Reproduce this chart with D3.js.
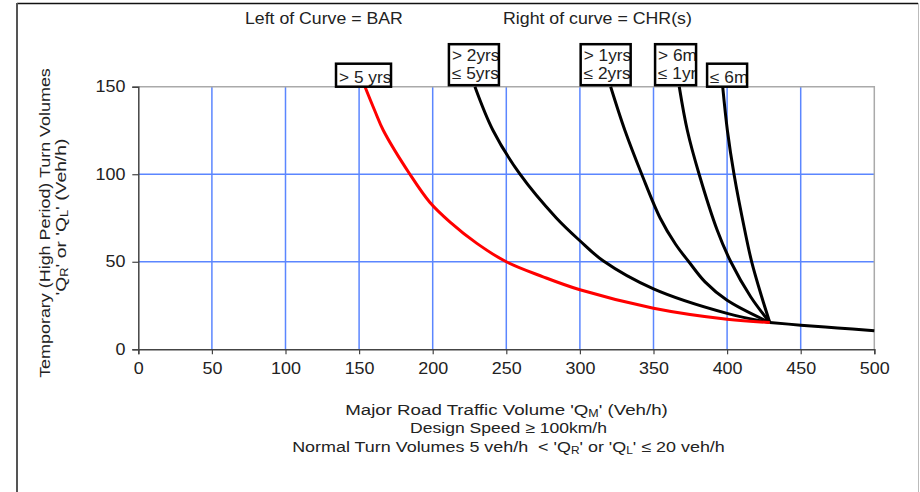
<!DOCTYPE html>
<html>
<head>
<meta charset="utf-8">
<script src="https://cdn.jsdelivr.net/npm/d3@7"></script>
<style>
  body { margin: 0; background: #fff; }
  svg text { font-family: "Liberation Sans", Arial, sans-serif; fill: #222; }
</style>
</head>
<body>
<div id="chart"></div>
<script>
// curve values (x = major road volume, y = turn volume)
let barX   = [154, 160.8, 166.5, 184.5, 198, 212, 230, 250, 275, 300, 350, 400, 429];
let barY   = [150, 136, 125, 100, 84, 72.5, 60.5, 50, 41.4, 34, 23.5, 17.2, 15.3];
let chr5X  = [228.7, 241, 259.3, 284, 300, 316, 350, 400, 429];
let chr5Y  = [150, 125, 100, 75, 62, 50.4, 34.5, 20.5, 15.3];
let chr2X  = [320.9, 330.6, 342, 354.5, 365, 374, 385, 400, 429];
let chr2Y  = [150, 125, 100, 75, 60, 50, 38.5, 28, 15.3];
let chr1X  = [367.5, 373, 381, 393.3, 402.5, 416, 429];
let chr1Y  = [150, 125, 100, 68, 50, 30, 15.3];
let chr6X  = [397, 400.2, 404.7, 412, 416.7, 423.5, 429];
let chr6Y  = [150, 125, 100, 68, 50, 30, 15.3];
let tailX  = [429, 450, 475, 500];
let tailY  = [15.3, 13.8, 12.2, 10.6];

let xTicks = [0, 50, 100, 150, 200, 250, 300, 350, 400, 450, 500];
let yTicks = [0, 50, 100, 150];

// curve labels, anchored on the x value of the curve top
let labelX    = [153, 228, 317.5, 365, 400];
let labelText = [["> 5 yrs"], ["> 2yrs", "\u2264 5yrs"], ["> 1yrs", "\u2264 2yrs"], ["> 6m", "\u2264 1yr"], ["\u2264 6m"]];

let config = { svg: {}, plot: {} };
config.svg.width = 920;
config.svg.height = 492;
config.plot.left = 138.3;
config.plot.right = 874.3;
config.plot.top = 86.7;
config.plot.bottom = 349.3;

let svg = d3.select("#chart").append("svg")
  .attr("width", config.svg.width)
  .attr("height", config.svg.height);

// stretch a text along its length so it is w pixels long
function fitTo(sel, x0, w) {
  let k = w / sel.node().getBBox().width;
  sel.attr("transform", "translate(" + x0 + ",0) scale(" + k + ",1) translate(" + (-x0) + ",0)");
}
function fitRotated(sel, cx, cy, w) {
  let k = w / sel.node().getBBox().width;
  sel.attr("transform", "translate(" + cx + "," + cy + ") rotate(-90) scale(" + k + ",1)");
}

// outer frame
svg.append("line").attr("x1", 17).attr("x2", 918).attr("y1", 3.5).attr("y2", 3.5)
  .attr("stroke", "#111").attr("stroke-width", 1.5);
svg.append("line").attr("x1", 17).attr("x2", 17).attr("y1", 3).attr("y2", 492)
  .attr("stroke", "#555").attr("stroke-width", 2);
svg.append("line").attr("x1", 918.5).attr("x2", 918.5).attr("y1", 3).attr("y2", 492)
  .attr("stroke", "#bbb").attr("stroke-width", 1);

let x = d3.scaleLinear().domain([0, 500]).range([config.plot.left, config.plot.right]);
let y = d3.scaleLinear().domain([0, 150]).range([config.plot.bottom, config.plot.top]);

// grid
svg.append("g").selectAll("line")
  .data(xTicks.filter(d => d > 0 && d < 500)).enter().append("line")
  .attr("x1", d => x(d)).attr("x2", d => x(d))
  .attr("y1", y(0)).attr("y2", y(150))
  .attr("stroke", "#5b86ff").attr("stroke-width", 1.5);
svg.append("g").selectAll("line")
  .data(yTicks.filter(d => d > 0 && d < 150)).enter().append("line")
  .attr("x1", x(0)).attr("x2", x(500))
  .attr("y1", d => y(d)).attr("y2", d => y(d))
  .attr("stroke", "#5b86ff").attr("stroke-width", 1.5);

// plot border top/right
svg.append("path")
  .attr("d", "M" + x(0) + "," + y(150) + "H" + x(500) + "V" + y(0))
  .attr("fill", "none").attr("stroke", "#aaa").attr("stroke-width", 1.5);

// axes
let xAxis = svg.append("g")
  .attr("transform", "translate(0," + y(0) + ")")
  .call(d3.axisBottom(x).tickValues(xTicks).tickSize(5).tickPadding(6));
let yAxis = svg.append("g")
  .attr("transform", "translate(" + x(0) + ",0)")
  .call(d3.axisLeft(y).tickValues(yTicks).tickSize(6).tickPadding(6));
[xAxis, yAxis].forEach(function(a) {
  a.select(".domain").attr("stroke", "#444").attr("stroke-width", 1.5);
  a.selectAll(".tick line").attr("stroke", "#444").attr("stroke-width", 1.2);
  a.selectAll(".tick text").style("font-size", "16px").attr("fill", "#222");
});
xAxis.selectAll(".tick text").attr("dy", "0.85em").attr("transform", "scale(1.12,1)");
yAxis.selectAll(".tick text").attr("x", -11.5).attr("transform", "scale(1.12,1)");

// curves
let line = d3.line()
  .x(d => x(d[0]))
  .y(d => y(d[1]))
  .curve(d3.curveCatmullRom.alpha(0.5));

function pairs(xs, ys) { return xs.map((v, i) => [v, ys[i]]); }

let blackSeries = [pairs(chr5X, chr5Y), pairs(chr2X, chr2Y), pairs(chr1X, chr1Y), pairs(chr6X, chr6Y), pairs(tailX, tailY)];
svg.append("g").selectAll("path")
  .data(blackSeries).enter().append("path")
  .attr("d", line)
  .attr("fill", "none")
  .attr("stroke", "#000")
  .attr("stroke-width", 3)
  .attr("stroke-linejoin", "round");

svg.append("path")
  .datum(pairs(barX, barY))
  .attr("d", line)
  .attr("fill", "none")
  .attr("stroke", "#ff0000")
  .attr("stroke-width", 3);

// labels on top of curves
let boxW = [55, 50, 50, 41, 40];
let defs = svg.append("defs");
labelText.forEach(function(lines, i) {
  let h = lines.length > 1 ? 41 : 23;
  let bx = x(labelX[i]) - boxW[i] / 2;
  let by = y(150) - h - (lines.length > 1 ? 1.5 : 0);
  defs.append("clipPath").attr("id", "clip" + i)
    .append("rect").attr("x", bx).attr("y", by).attr("width", boxW[i]).attr("height", h);
  let g = svg.append("g");
  g.append("rect")
    .attr("x", bx).attr("y", by).attr("width", boxW[i]).attr("height", h)
    .attr("fill", "#fff");
  let t = g.append("g").attr("clip-path", "url(#clip" + i + ")")
    .append("text")
    .attr("transform", "translate(" + (bx + 3) + ",0) scale(1.08,1) translate(" + (-bx - 3) + ",0)")
    .style("font-size", "16px");
  lines.forEach(function(s, j) {
    t.append("tspan").attr("x", bx + 3).attr("y", by + (lines.length > 1 ? 17 : 19) + j * 18).text(s);
  });
  g.append("rect")
    .attr("x", bx).attr("y", by).attr("width", boxW[i]).attr("height", h)
    .attr("fill", "none").attr("stroke", "#000").attr("stroke-width", 2.5);
});

// header texts
let h1 = svg.append("text").attr("x", 245).attr("y", 24).style("font-size", "16px").text("Left of Curve = BAR");
fitTo(h1, 245, 158);
let h2 = svg.append("text").attr("x", 503).attr("y", 24).style("font-size", "16px").text("Right of curve = CHR(s)");
fitTo(h2, 503, 189);

function sub(t, main, s) {
  t.append("tspan").text(main);
  t.append("tspan").attr("dy", 2).style("font-size", "10px").text(s);
  t.append("tspan").attr("dy", -2).text("'");
}

// y axis title (rotated)
let yt = svg.append("text")
  .attr("text-anchor", "middle")
  .style("font-size", "15px")
  .text("Temporary (High Period) Turn Volumes");
fitRotated(yt, 50, 223, 310);
let yt2 = svg.append("text")
  .attr("text-anchor", "middle")
  .style("font-size", "15px");
yt2.append("tspan").text("'");
sub(yt2, "Q", "R");
yt2.append("tspan").text(" or '");
sub(yt2, "Q", "L");
yt2.append("tspan").text(" (Veh/h)");
fitRotated(yt2, 66, 217, 157);

// x axis title
let xt1 = svg.append("text").attr("x", 506.5).attr("y", 415).attr("text-anchor", "middle").style("font-size", "15px");
xt1.append("tspan").text("Major Road Traffic Volume '");
sub(xt1, "Q", "M");
xt1.append("tspan").text(" (Veh/h)");
fitTo(xt1, 506.5, 323);
let xt2 = svg.append("text").attr("x", 508.5).attr("y", 433.5).attr("text-anchor", "middle").style("font-size", "15px")
  .text("Design Speed \u2265 100km/h");
fitTo(xt2, 508.5, 197);
let xt3 = svg.append("text").attr("x", 508.5).attr("y", 452).attr("text-anchor", "middle").style("font-size", "15px");
xt3.append("tspan").text("Normal Turn Volumes 5 veh/h \u00a0< '");
sub(xt3, "Q", "R");
xt3.append("tspan").text(" or '");
sub(xt3, "Q", "L");
xt3.append("tspan").text(" \u2264 20 veh/h");
fitTo(xt3, 508.5, 433);
</script>
</body>
</html>
